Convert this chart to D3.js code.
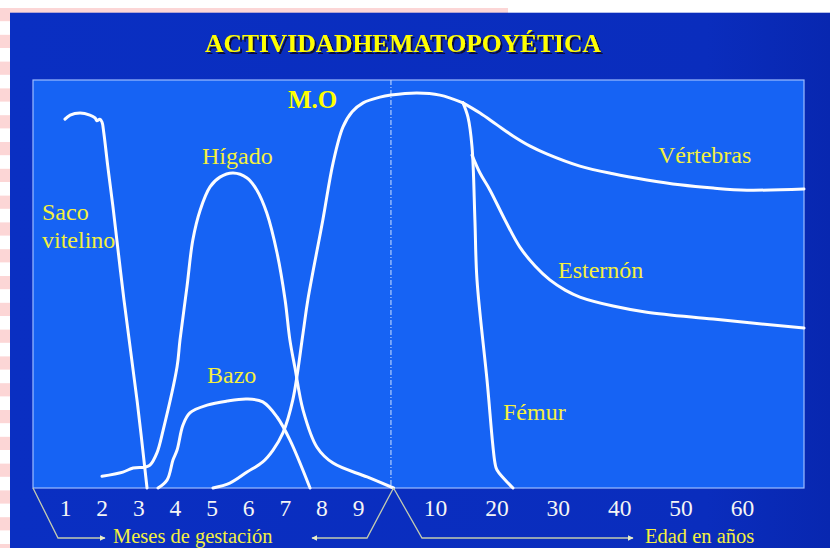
<!DOCTYPE html>
<html>
<head>
<meta charset="utf-8">
<script src="https://cdn.jsdelivr.net/npm/d3@7"></script>
<style>
  html, body { margin: 0; padding: 0; background: #ffffff; }
  svg { display: block; }
</style>
</head>
<body>
<svg id="chart" width="830" height="548"></svg>
<script>
// ---- Datos ----
// Meses de gestación y edades (años) que se rotulan en el eje
const meses = [1, 2, 3, 4, 5, 6, 7, 8, 9];
const edades = [10, 20, 30, 40, 50, 60];
const nacimiento = 9.9;   // mes en que termina la gestación

// Actividad hematopoyética (0–100) por órgano: [mes, actividad]
const sacoVitelino = [[1.0, 90.4], [1.14, 91.4], [1.41, 91.9], [1.68, 91.4], [1.82, 90.7], [1.87, 90.0],
  [1.95, 90.4], [2.01, 89.7], [2.06, 87.0], [2.17, 78.7], [2.31, 68.9], [2.61, 46.1], [2.97, 21.3], [3.24, 0]];
const higado = [[2.01, 2.9], [2.58, 3.9], [2.86, 4.9], [3.18, 5.1], [3.32, 5.6], [3.51, 8.6], [3.68, 14.2],
  [4.06, 29.7], [4.14, 36.3], [4.33, 49.3], [4.49, 60.8], [4.69, 68.1], [4.96, 73.8], [5.23, 76.2], [5.59, 77.2],
  [5.97, 76.0], [6.24, 73.0], [6.51, 67.4], [6.79, 57.6], [7.01, 46.1], [7.14, 36.3], [7.28, 29.4], [7.50, 19.1],
  [7.88, 10.0], [8.32, 6.1], [9.25, 2.7], [9.97, 0]];
const bazo = [[3.54, 0], [3.79, 2.0], [3.95, 6.9], [4.06, 9.3], [4.22, 15.4], [4.41, 18.4], [4.88, 20.3],
  [5.42, 21.3], [5.97, 21.8], [6.40, 21.1], [6.79, 17.4], [7.14, 11.8], [7.69, 0]];
// Médula ósea: tramo prenatal [mes, actividad] y tramo posnatal [años, actividad]
const medulaGestacion = [[5.04, 0], [5.50, 1.2], [5.97, 3.9], [6.40, 6.4], [6.68, 9.3], [6.95, 13.5], [7.22, 21.6],
  [7.50, 38.0], [7.63, 46.1], [8.04, 65.7], [8.32, 79.7], [8.59, 88.5], [8.84, 92.2], [9.14, 94.4], [9.60, 95.8], [9.9, 96.3]];
const medulaEdad = [[5.9, 96.8], [10.8, 96.3], [14.56, 94.4]];
// Huesos después del nacimiento: [años, actividad]
const vertebras = [[14.56, 94.4], [17.33, 91.9], [20.1, 89.0], [22.7, 86.3], [25.5, 83.8], [28.2, 81.9],
  [33.6, 78.9], [39.0, 77.0], [44.5, 75.5], [49.9, 74.3], [55.3, 73.5], [60.8, 73.0], [70, 73.3]];
const femur = [[14.56, 94.4], [15.37, 90.9], [16.03, 83.6], [16.5, 65.7], [16.84, 51.0], [18.47, 26.5],
  [19.77, 6.1], [20.1, 4.4], [22.7, 0]];
const esternon = [[16.03, 81.6], [17.33, 77.2], [18.96, 73.0], [21.4, 65.7], [23.8, 59.1], [26.3, 54.4],
  [28.7, 51.0], [31.2, 48.5], [33.6, 46.8], [39.0, 44.6], [44.5, 43.1], [55.3, 41.4], [70, 39.2]];

// ---- Dibujo ----
const svg = d3.select("#chart");
const W = 830, H = 548;
const plot = { left: 33, right: 804, top: 80, bottom: 488 };

const xMeses = d3.scaleLinear().domain([1, 9]).range([65, 358]);
const xEdad = d3.scaleLinear().domain([0, 10, 60, 70]).range([xMeses(nacimiento), 435, 742, plot.right]);
const y = d3.scaleLinear().domain([0, 100]).range([plot.bottom, plot.top]);

const serif = "'Liberation Serif', 'Times New Roman', Times, serif";
const amarillo = "#f4f03e";

const defs = svg.append("defs");
const fondo = defs.append("linearGradient").attr("id", "fondo").attr("x1", 0).attr("x2", 1).attr("y1", 0).attr("y2", 0);
fondo.append("stop").attr("offset", "0%").attr("stop-color", "#0a2fc2");
fondo.append("stop").attr("offset", "85%").attr("stop-color", "#0a2dbd");
fondo.append("stop").attr("offset", "100%").attr("stop-color", "#0827b0");
defs.append("marker").attr("id", "flecha").attr("viewBox", "0 0 10 10")
  .attr("refX", 9).attr("refY", 5).attr("markerWidth", 6).attr("markerHeight", 6)
  .attr("markerUnits", "userSpaceOnUse").attr("orient", "auto")
  .append("path").attr("d", "M0,0 L10,5 L0,10 Z").attr("fill", "#e8ecc8");
const sombra = defs.append("filter").attr("id", "sombra")
  .attr("x", "-5%").attr("y", "-20%").attr("width", "110%").attr("height", "150%");
sombra.append("feDropShadow").attr("dx", 2).attr("dy", 2).attr("stdDeviation", 0.6)
  .attr("flood-color", "#10103a").attr("flood-opacity", 1);

// Borde rayado de la diapositiva
svg.append("rect").attr("x", 0).attr("y", 8).attr("width", 508).attr("height", 6).attr("fill", "#fcd6d6");
for (let yy = 8; yy < H; yy += 26.8) {
  svg.append("rect").attr("x", 0).attr("y", yy).attr("width", 10).attr("height", 13.2).attr("fill", "#fcd6d6");
}
svg.append("rect").attr("x", 10).attr("y", 12.7).attr("width", W - 10).attr("height", H - 12.7).attr("fill", "url(#fondo)");

// Área del gráfico
svg.append("rect").attr("x", plot.left).attr("y", plot.top)
  .attr("width", plot.right - plot.left).attr("height", plot.bottom - plot.top)
  .attr("fill", "#1663f4").attr("stroke", "#9dbcff").attr("stroke-width", 1.2);

// Línea del nacimiento
svg.append("line")
  .attr("x1", xMeses(nacimiento)).attr("x2", xMeses(nacimiento))
  .attr("y1", plot.top).attr("y2", plot.bottom)
  .attr("stroke", "#cfe2ff").attr("stroke-width", 1)
  .attr("stroke-dasharray", "5,2,1,2");

// Título con sombra
svg.append("text").attr("x", 403).attr("y", 52).attr("text-anchor", "middle")
  .attr("font-family", serif).attr("font-weight", "bold").attr("font-size", 25.5)
  .attr("fill", "#ffff00").attr("filter", "url(#sombra)")
  .text("ACTIVIDADHEMATOPOYÉTICA");

// Curvas
const linea = d3.line().x(d => d[0]).y(d => d[1]).curve(d3.curveCatmullRom.alpha(0.5));
const enMeses = arr => arr.map(d => [xMeses(d[0]), y(d[1])]);
const enEdad = arr => arr.map(d => [xEdad(d[0]), y(d[1])]);
const curvas = [
  enMeses(sacoVitelino),
  enMeses(higado),
  enMeses(bazo),
  enMeses(medulaGestacion).concat(enEdad(medulaEdad)),
  enEdad(vertebras),
  enEdad(femur),
  enEdad(esternon)
];
svg.append("g").selectAll("path").data(curvas).join("path")
  .attr("d", linea).attr("fill", "none")
  .attr("stroke", "#fbfcff").attr("stroke-width", 3)
  .attr("stroke-linecap", "round").attr("stroke-linejoin", "round");

// Rótulos de las curvas
const rotulos = [
  { t: "Saco", x: 42, y: 220 },
  { t: "vitelino", x: 42, y: 248 },
  { t: "Hígado", x: 202, y: 164 },
  { t: "Bazo", x: 207, y: 383 },
  { t: "Vértebras", x: 658, y: 163 },
  { t: "Esternón", x: 558, y: 278 },
  { t: "Fémur", x: 503, y: 420 }
];
svg.append("g").selectAll("text").data(rotulos).join("text")
  .attr("x", d => d.x).attr("y", d => d.y)
  .attr("font-family", serif).attr("font-size", 24).attr("fill", amarillo)
  .text(d => d.t);
svg.append("text").attr("x", 288).attr("y", 108)
  .attr("font-family", serif).attr("font-weight", "bold").attr("font-size", 25)
  .attr("fill", "#ffff00").text("M.O");

// Ejes
function estiloEje(g) {
  g.select(".domain").remove();
  g.selectAll("text").attr("y", 28).attr("dy", 0)
    .attr("font-family", serif).attr("font-size", 23.5).attr("fill", "#f5f5f5");
}
svg.append("g").attr("transform", `translate(0,${plot.bottom})`)
  .call(d3.axisBottom(xMeses).tickValues(meses).tickSize(0).tickFormat(d3.format("d")))
  .call(estiloEje);
svg.append("g").attr("transform", `translate(0,${plot.bottom})`)
  .call(d3.axisBottom(xEdad).tickValues(edades).tickSize(0).tickFormat(d3.format("d")))
  .call(estiloEje);

// Corchetes con flechas
const yCorchete = 538;
const vertice = xMeses(9.97);
const trazo = { stroke: "#c4ccb0", width: 1.3 };
function segmento(puntos, flecha) {
  const p = svg.append("path").attr("d", d3.line()(puntos))
    .attr("fill", "none").attr("stroke", trazo.stroke).attr("stroke-width", trazo.width);
  if (flecha) p.attr("marker-end", "url(#flecha)");
}
segmento([[plot.left, plot.bottom], [58, yCorchete], [105, yCorchete]], true);
segmento([[vertice, plot.bottom], [367, yCorchete], [312, yCorchete]], true);
segmento([[vertice, plot.bottom], [422, yCorchete], [633, yCorchete]], true);

svg.append("text").attr("x", 113).attr("y", 543)
  .attr("font-family", serif).attr("font-size", 20.5).attr("fill", amarillo).text("Meses de gestación");
svg.append("text").attr("x", 645).attr("y", 543)
  .attr("font-family", serif).attr("font-size", 20.5).attr("fill", amarillo).text("Edad en años");
</script>
</body>
</html>
